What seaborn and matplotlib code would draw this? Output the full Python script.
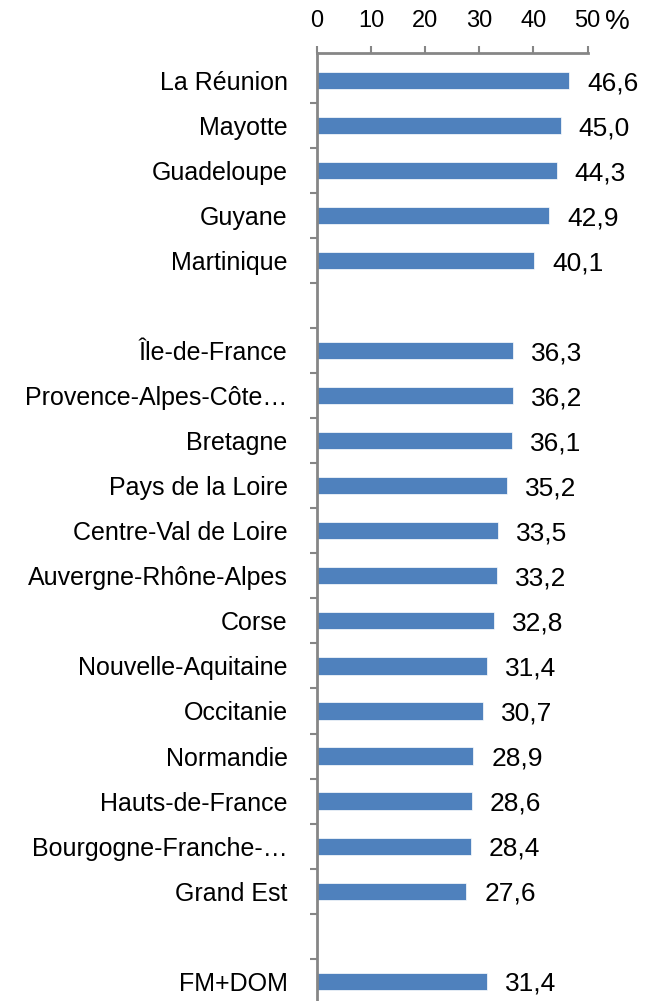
import matplotlib
matplotlib.use("Agg")
import matplotlib.pyplot as plt
import numpy as np
import pandas as pd
import seaborn as sns

# rows from top to bottom; blank names are spacer rows
regions = ["La Réunion", "Mayotte", "Guadeloupe", "Guyane", "Martinique", " ",
           "Île-de-France", "Provence-Alpes-Côte…", "Bretagne", "Pays de la Loire",
           "Centre-Val de Loire", "Auvergne-Rhône-Alpes", "Corse",
           "Nouvelle-Aquitaine", "Occitanie", "Normandie", "Hauts-de-France",
           "Bourgogne-Franche-…", "Grand Est", "  ", "FM+DOM"]
values = [46.6, 45.0, 44.3, 42.9, 40.1, np.nan,
          36.3, 36.2, 36.1, 35.2,
          33.5, 33.2, 32.8,
          31.4, 30.7, 28.9, 28.6,
          28.4, 27.6, np.nan, 31.4]
x_ticks = [0, 10, 20, 30, 40, 50]

df = pd.DataFrame({"region": regions, "value": values})
df_bars = df.dropna()

sns.set_style("white")
plt.rcParams["font.family"] = ["Liberation Sans", "DejaVu Sans"]
plt.rcParams["text.color"] = "black"
plt.rcParams["xtick.color"] = "black"
plt.rcParams["ytick.color"] = "black"

fig = plt.figure(figsize=(6.45, 10.01), dpi=100)
ax = fig.add_axes([0.491, 0.0, 0.420, 0.947])

sns.barplot(data=df_bars, y="region", x="value", order=regions, orient="h",
            color="#4F81BD", saturation=1, width=0.38, edgecolor="white",
            linewidth=0.5, ax=ax)

labels = [f"{v:.1f}".replace(".", ",") for v in df_bars["value"]]
anns = ax.bar_label(ax.containers[0], labels=labels, padding=13, fontsize=19)
for t in anns:
    t.xyann = (13, -2)

ax.set_xlim(0, 50)
ax.set_ylim(len(regions) - 0.56, -0.61)
ax.set_xticks(x_ticks)
ax.xaxis.tick_top()
ax.tick_params(axis="x", which="major", top=True, bottom=False, length=5,
               width=1.5, color="#868686", pad=10, labelsize=17)
ax.set_xlabel("")
ax.set_ylabel("")

ax.set_yticks(range(len(regions)))
ax.set_yticklabels(regions)
ax.set_yticks(np.arange(0.5, len(regions) - 1, 1), minor=True)
ax.tick_params(axis="y", which="major", length=0, pad=21, labelsize=18)
ax.tick_params(axis="y", which="minor", left=True, length=5, width=1.5,
               color="#868686")

for side in ["right", "bottom"]:
    ax.spines[side].set_visible(False)
for side in ["top", "left"]:
    ax.spines[side].set_color("#868686")
    ax.spines[side].set_linewidth(2)

ax.text(1.065, 1.033, "%", transform=ax.transAxes, fontsize=20,
        va="center", ha="left")

fig.savefig("out.png", dpi=100)
